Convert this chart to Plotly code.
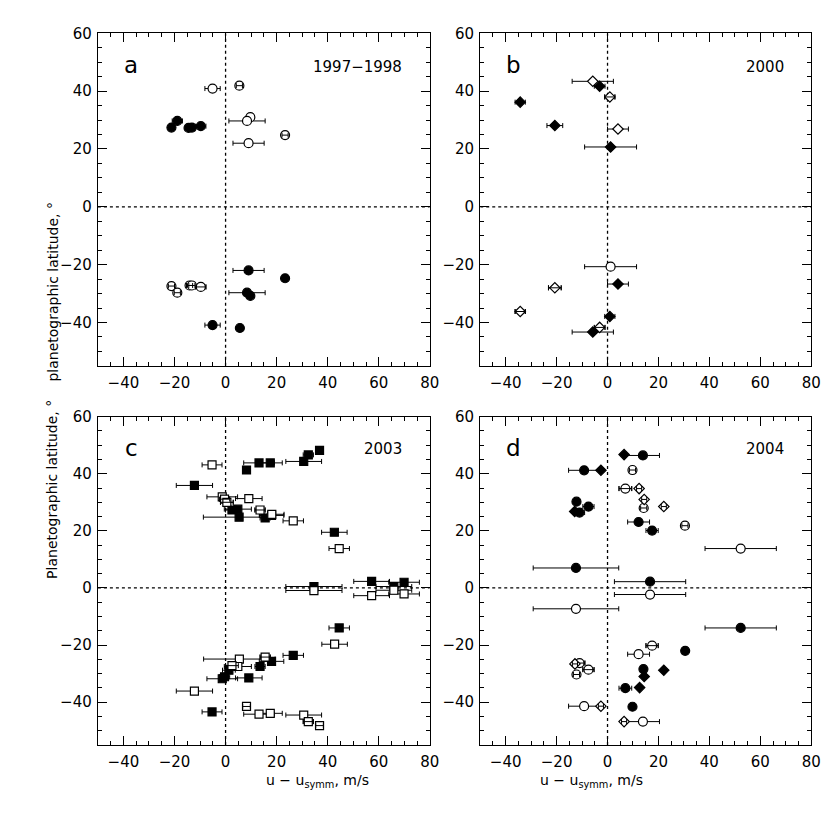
"""Zonal wind residuals vs planetographic latitude, four epochs (Plotly)."""

import plotly.graph_objects as go

# ---- panel a: 1997-1998 (circles) ----
a_filled_x = [-18.9, -21.2, -14.5, -13.2, -9.7, 9.0, 23.3, 8.4, 9.7, -5.1, 5.6]
a_filled_y = [29.7, 27.4, 27.3, 27.4, 27.9, -22.0, -24.7, -29.7, -30.8, -40.9, -41.9]
a_filled_err = [2.0, 0, 0, 0, 2.0, 6.1, 0, 7.1, 0, 3.0, 0]
a_open_x = [-5.1, 5.4, 9.7, 8.4, 23.3, 9.0, -21.2, -14.1, -13.2, -9.7, -18.9]
a_open_y = [40.9, 41.9, 31.0, 29.7, 24.8, 22.0, -27.4, -27.2, -27.2, -27.7, -29.7]
a_open_err = [3.0, 1.2, 0, 7.1, 1.2, 6.1, 1.2, 1.2, 1.2, 2.0, 1.2]

# ---- panel b: 2000 (diamonds, one circle) ----
b_filled_x = [-3.1, -34.3, -20.7, 1.2, 4.1, 0.9, -5.8]
b_filled_y = [41.7, 36.2, 28.1, 20.7, -26.7, -37.9, -43.3]
b_filled_err = [2.1, 2.0, 3.1, 10.2, 4.1, 2.0, 8.1]
b_open_x = [-5.8, 0.9, 4.1, -20.7, -34.3, -3.1]
b_open_y = [43.4, 38.0, 26.9, -28.0, -36.2, -41.7]
b_open_err = [8.1, 2.0, 4.1, 2.5, 2.0, 2.1]
b_circle_x = [1.2]
b_circle_y = [-20.7]
b_circle_err = [10.2]

# ---- panel c: 2003 (squares) ----
c_filled_x = [-12.2, 8.2, 13.1, 17.5, 30.6, 32.4, 36.8, 2.5, 4.8, 5.3, 15.5, 18.0,
              42.6, 34.6, 57.2, 65.9, 69.9,
              44.5, 26.5, 18.0, 13.5, 1.3, -0.4, -1.3, 9.1, -5.3]
c_filled_y = [35.9, 41.3, 43.8, 43.8, 44.3, 46.6, 48.2, 27.3, 27.6, 24.8, 24.5, 25.4,
              19.5, 0.5, 2.3, 0.5, 2.0,
              -14.0, -23.6, -25.7, -27.5, -28.8, -31.1, -31.8, -31.5, -43.4]
c_filled_err = [7.1, 1.5, 6.0, 4.7, 7.0, 2.0, 1.5, 2.5, 5.3, 14.0, 2.0, 4.8,
                5.0, 11.0, 7.0, 7.0, 6.0,
                4.0, 4.0, 4.8, 2.0, 2.5, 2.0, 6.0, 5.2, 3.9]
c_open_x = [-5.3, -1.3, -0.4, 0.5, 9.1, 13.5, 18.1, 26.5, 44.5,
            34.6, 57.2, 65.9, 69.9,
            42.7, 15.5, 5.4, 4.8, 2.5, -12.2, 8.2, 13.1, 17.5, 30.6, 32.4, 36.8]
c_open_y = [43.1, 31.9, 31.1, 30.0, 31.3, 27.3, 25.8, 23.5, 13.8,
            -0.9, -2.7, -0.8, -2.1,
            -19.7, -24.2, -24.9, -27.5, -27.2, -36.1, -41.5, -44.2, -43.9, -44.5, -46.8, -48.2]
c_open_err = [3.9, 6.0, 2.0, 2.5, 5.2, 2.0, 4.8, 4.0, 4.0,
              11.0, 7.0, 7.0, 6.0,
              5.0, 2.0, 14.0, 5.3, 2.5, 7.1, 1.5, 6.0, 4.7, 7.0, 2.0, 1.5]

# ---- panel d: 2004 (circles and diamonds) ----
d_filled_x = [13.9, -9.2, -12.2, -7.5, -11.0, 12.2, 17.5, -12.4, 16.7,
              52.3, 30.5, 14.1, 7.0, 9.8]
d_filled_y = [46.4, 41.2, 30.2, 28.5, 26.4, 23.1, 20.1, 7.0, 2.2,
              -14.0, -22.0, -28.4, -35.1, -41.6]
d_filled_err = [6.5, 6.1, 0, 2.2, 2.0, 4.3, 2.4, 16.8, 14.0,
                14.0, 0, 0, 2.5, 0]
d_fdiam_x = [6.5, -2.6, -12.9, 22.1, 14.4, 12.6]
d_fdiam_y = [46.7, 41.2, 26.8, -28.8, -31.0, -34.9]
d_open_x = [9.8, 7.0, 14.2, 30.4, 52.3, 16.7, -12.4, 17.5, 12.2, -11.0, -7.5, -12.2, -9.2, 13.9]
d_open_y = [41.3, 34.8, 28.0, 21.8, 13.8, -2.3, -7.3, -20.2, -23.2, -26.3, -28.6, -30.3, -41.4, -46.8]
d_open_err = [1.2, 2.5, 1.2, 1.2, 14.0, 14.0, 16.8, 2.4, 4.3, 2.1, 2.2, 1.2, 6.1, 6.5]
d_odiam_x = [12.4, 14.4, 22.1, -12.8, -2.6, 6.5]
d_odiam_y = [34.8, 31.0, 28.5, -26.6, -41.4, -46.8]
d_odiam_err = [1.0, 1.0, 1.0, 1.0, 1.0, 1.0]

panel_letters = ["a", "b", "c", "d"]
panel_years = ["1997\u22121998", "2000", "2003", "2004"]

FONT = "DejaVu Sans"
X_RANGE = [-50, 80]
Y_RANGE = [-55, 60]
SMALL_ERR = 2.6  # bars this short show through open symbols

W = 830.0
# panel boxes in pixels (left, right, top, bottom)
boxes = {
    1: (91, 427, 16.5, 352.7),
    2: (478, 813, 16.5, 352.7),
    3: (91, 427, 404, 736),
    4: (478, 813, 404, 736),
}

fig = go.Figure()


def add_points(n, x, y, err, symbol, filled, size):
    xa = "x" if n == 1 else f"x{n}"
    ya = "y" if n == 1 else f"y{n}"
    err = err if err is not None else [0] * len(x)
    fig.add_trace(go.Scatter(
        x=x, y=y, mode="markers", xaxis=xa, yaxis=ya, showlegend=False,
        marker=dict(symbol=symbol, size=size,
                    color="black" if filled else "white",
                    line=dict(color="black", width=1.2)),
        error_x=dict(type="data", array=err, color="black", thickness=1, width=2.5),
    ))
    if not filled:
        # short bars drawn over the open symbols (the "theta" look)
        sx = [xi for xi, e in zip(x, err) if 0 < e <= SMALL_ERR]
        sy = [yi for yi, e in zip(y, err) if 0 < e <= SMALL_ERR]
        se = [e for e in err if 0 < e <= SMALL_ERR]
        if sx:
            fig.add_trace(go.Scatter(
                x=sx, y=sy, mode="markers", xaxis=xa, yaxis=ya, showlegend=False,
                marker=dict(size=1, color="rgba(0,0,0,0)"),
                error_x=dict(type="data", array=se, color="black", thickness=1, width=2.5),
            ))


add_points(1, a_filled_x, a_filled_y, a_filled_err, "circle", True, 9)
add_points(1, a_open_x, a_open_y, a_open_err, "circle", False, 9)

add_points(2, b_filled_x, b_filled_y, b_filled_err, "diamond", True, 8)
add_points(2, b_open_x, b_open_y, b_open_err, "diamond", False, 8)
add_points(2, b_circle_x, b_circle_y, b_circle_err, "circle", False, 9)

add_points(3, c_filled_x, c_filled_y, c_filled_err, "square", True, 8)
add_points(3, c_open_x, c_open_y, c_open_err, "square", False, 8)

add_points(4, d_filled_x, d_filled_y, d_filled_err, "circle", True, 9)
add_points(4, d_fdiam_x, d_fdiam_y, None, "diamond", True, 8)
add_points(4, d_open_x, d_open_y, d_open_err, "circle", False, 9)
add_points(4, d_odiam_x, d_odiam_y, d_odiam_err, "diamond", False, 8)

axis_style = dict(
    showline=True, linecolor="black", linewidth=1.3, mirror="ticks",
    ticks="inside", ticklen=9, tickwidth=1.3, tickcolor="black",
    dtick=20, tick0=0, showgrid=False, zeroline=False,
    tickfont=dict(family=FONT, size=15, color="black"),
    minor=dict(dtick=5, ticks="inside", ticklen=4, tickwidth=1, tickcolor="black"),
)

layout = dict(
    width=830, height=830, margin=dict(l=0, r=0, t=0, b=0),
    paper_bgcolor="white", plot_bgcolor="white",
    font=dict(family=FONT, color="black"),
)
shapes = []
annotations = []
for n, (l, r, t, b) in boxes.items():
    sfx = "" if n == 1 else str(n)
    layout["xaxis" + sfx] = dict(axis_style, range=X_RANGE, domain=[l / W, r / W],
                                 anchor="y" + sfx, ticklabelstandoff=3)
    layout["yaxis" + sfx] = dict(axis_style, range=Y_RANGE, domain=[1 - b / W, 1 - t / W],
                                 anchor="x" + sfx, ticklabelstandoff=2)
    xref, yref = "x" + sfx, "y" + sfx
    shapes.append(dict(type="line", xref=xref, yref=yref, x0=0, x1=0,
                       y0=Y_RANGE[0], y1=Y_RANGE[1], layer="below",
                       line=dict(color="black", width=1.3, dash="dot")))
    shapes.append(dict(type="line", xref=xref, yref=yref, y0=0, y1=0,
                       x0=X_RANGE[0], x1=X_RANGE[1], layer="below",
                       line=dict(color="black", width=1.3, dash="dot")))
    annotations.append(dict(xref=xref, yref=yref, x=-37, y=49, text=panel_letters[n - 1],
                            showarrow=False, font=dict(size=23, family=FONT)))
    annotations.append(dict(xref=xref, yref=yref, x=70, y=48.5, text=panel_years[n - 1],
                            xanchor="right", showarrow=False, font=dict(size=15, family=FONT)))

# axis titles
annotations.append(dict(xref="paper", yref="paper", x=35 / W, y=1 - 185 / W,
                        text="planetographic latitude, \u00b0", textangle=-90,
                        showarrow=False, font=dict(size=14, family=FONT)))
annotations.append(dict(xref="paper", yref="paper", x=35 / W, y=1 - 570 / W,
                        text="Planetographic latitude, \u00b0", textangle=-90,
                        showarrow=False, font=dict(size=14, family=FONT)))
for cx in (259, 645):
    annotations.append(dict(xref="paper", yref="paper", x=cx / W, y=1 - 784 / W,
                            text="u \u2212 u<sub>symm</sub>, m/s",
                            showarrow=False, font=dict(size=14, family=FONT)))

layout["shapes"] = shapes
layout["annotations"] = annotations
fig.update_layout(**layout)

fig.write_html("out.html")
